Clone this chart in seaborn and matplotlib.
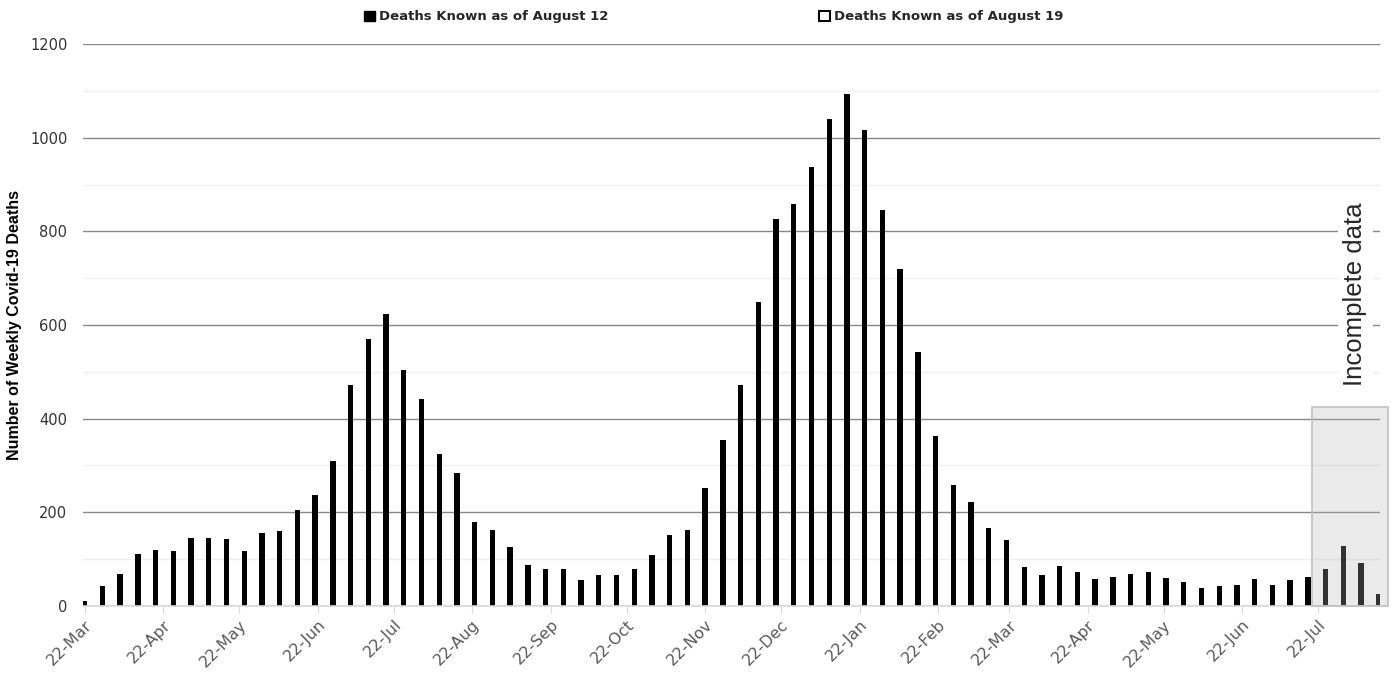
import numpy as np
import pandas as pd
import seaborn as sns
from matplotlib import pyplot as plt
from matplotlib.patches import Patch, Rectangle

# weekly deaths, first week starting 22-Mar-2020
start_date = "2020-03-22"
deaths = [10, 42, 68, 112, 120, 118, 145, 145, 143, 118,
          155, 160, 205, 238, 310, 472, 570, 623, 503, 443,
          325, 285, 180, 162, 125, 87, 80, 78, 55, 67,
          66, 78, 108, 152, 162, 252, 354, 472, 650, 827,
          858, 938, 1040, 1093, 1017, 845, 720, 543, 362, 258,
          222, 167, 140, 84, 67, 86, 73, 58, 62, 69,
          73, 60, 52, 38, 42, 45, 58, 44, 55, 62,
          80, 127, 92, 25]
n_incomplete = 4
legend_labels = ["Deaths Known as of August 12", "Deaths Known as of August 19"]

weeks = pd.date_range(start_date, periods=len(deaths), freq="7D")
days = (weeks - weeks[0]).days.values
df = pd.DataFrame({"day": days, "deaths": deaths})

tick_dates = pd.date_range(start_date, "2021-07-22", freq=pd.DateOffset(months=1))
tick_pos = (tick_dates - weeks[0]).days.values
tick_lab = [d.strftime("%d-%b") for d in tick_dates]

sns.set_style("white")
fig = plt.figure(figsize=(13.94, 6.73), dpi=100)
ax = fig.add_axes([0.0593, 0.0996, 0.9307, 0.835])

sns.barplot(data=df, x="day", y="deaths", native_scale=True, color="black",
            width=0.3, linewidth=0, errorbar=None, saturation=1, ax=ax)

ax.set_xlim(-0.8, 511.5)
ax.set_ylim(0, 1200)
ax.set_yticks(np.arange(0, 1201, 200))
ax.set_yticks(np.arange(100, 1200, 200), minor=True)
ax.grid(axis="y", which="major", color="#878787", lw=1)
ax.grid(axis="y", which="minor", color="#eeeeee", lw=1)
ax.set_axisbelow(True)
for s in ["top", "right", "left"]:
    ax.spines[s].set_visible(False)
ax.spines["bottom"].set_color("#d9d9d9")
ax.spines["bottom"].set_linewidth(1.2)

ax.set_xticks(tick_pos)
ax.set_xticklabels(tick_lab, rotation=45, ha="right", rotation_mode="anchor",
                   fontsize=11.5, color="#595959")
ax.tick_params(axis="x", which="major", bottom=True, length=5, color="#d9d9d9", pad=3)
ax.tick_params(axis="y", which="both", left=False, length=0, labelsize=10.5,
               labelcolor="#333333", pad=11)
ax.set_xlabel("")
ax.set_ylabel("Number of Weekly Covid-19 Deaths", fontsize=11.5, fontweight="bold",
              family="Liberation Sans", color="black")
ax.yaxis.set_label_coords(-0.0465, 0.5)

# shaded incomplete-data box
x0 = days[-n_incomplete] - 5.5
ax.add_patch(Rectangle((x0, 0), 30, 425, facecolor=(0.71, 0.71, 0.71, 0.28),
                       edgecolor="#c0c0c0", lw=1.2, clip_on=False, zorder=5))
ax.text(501.7, 666, "Incomplete data", rotation=90, ha="center", va="center",
        fontsize=18.5, family="Liberation Sans", zorder=6,
        bbox=dict(facecolor="white", edgecolor="none", pad=4))

handles = [Patch(facecolor="black", edgecolor="black"),
           Patch(facecolor="white", edgecolor="black", lw=1.5)]
fig.legend(handles, legend_labels, loc="center", bbox_to_anchor=(0.512, 0.975),
           ncol=2, frameon=False, handlelength=0.8, handleheight=0.8,
           handletextpad=0.3, columnspacing=16,
           prop={"weight": "bold", "size": 9.5})

plt.savefig("out.png", dpi=100)
